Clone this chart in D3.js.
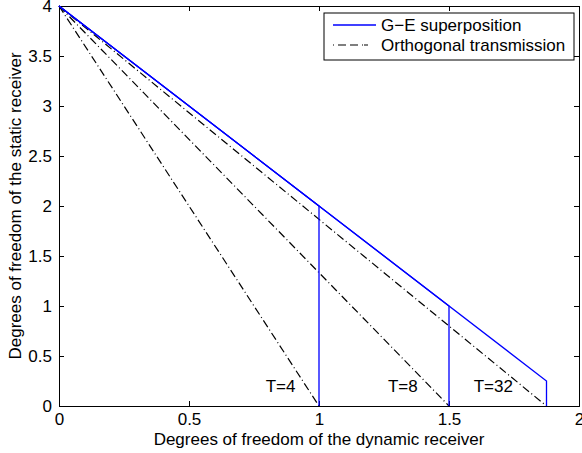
<!DOCTYPE html>
<html>
  <head>
    <script src="https://d3js.org/d3.v7.min.js"></script>
    <style>
      body { margin: 0; background: #fff; }
      svg text { font-family: "Liberation Sans", Arial, sans-serif; font-size: 17px; fill: #000; }
    </style>
  </head>
  <body>
    <svg id="chart" width="582" height="453"></svg>
    <script>
      // Corner points of each region, one per block length T
      var blockLabels = ["T=4", "T=8", "T=32"];
      var geX = [1, 1.5, 1.875];          // where the G-E curve drops to zero
      var geY = [2, 1, 0.25];             // G-E value at that corner
      var orthX = [1, 1.5, 1.875];        // orthogonal line hits the x axis here
      var labelX = [0.795, 1.265, 1.595];
      var xTicks = [0, 0.5, 1, 1.5, 2];
      var yTicks = [0, 0.5, 1, 1.5, 2, 2.5, 3, 3.5, 4];

      var svg = d3.select("#chart");
      var mLeft = 59, mRight = 579, mTop = 6, mBottom = 406;

      var x = d3.scaleLinear().domain([0, 2]).range([mLeft, mRight]);
      var y = d3.scaleLinear().domain([0, 4]).range([mBottom, mTop]);

      var line = d3.line().x(function(d) { return x(d[0]); }).y(function(d) { return y(d[1]); });

      // axes, ticks inside, mirrored on top and right
      var fmt = function(d) { return d3.format("~g")(d); };
      svg.append("g").attr("transform", "translate(0," + mBottom + ")")
        .call(d3.axisBottom(x).tickValues(xTicks).tickSize(-5).tickPadding(7).tickFormat(fmt));
      svg.append("g").attr("transform", "translate(0," + mTop + ")")
        .call(d3.axisTop(x).tickValues(xTicks).tickSize(-5).tickFormat(""));
      svg.append("g").attr("transform", "translate(" + mLeft + ",0)")
        .call(d3.axisLeft(y).tickValues(yTicks).tickSize(-5).tickPadding(7).tickFormat(fmt));
      svg.append("g").attr("transform", "translate(" + mRight + ",0)")
        .call(d3.axisRight(y).tickValues(yTicks).tickSize(-5).tickFormat(""));
      svg.selectAll(".domain").attr("stroke", "#000").attr("stroke-width", 1);
      svg.selectAll(".tick line").attr("stroke", "#000");
      svg.selectAll(".tick text").attr("fill", "#000");

      // orthogonal transmission lines
      orthX.forEach(function(ox) {
        svg.append("path").attr("d", line([[0, 4], [ox, 0]]))
          .attr("fill", "none").attr("stroke", "#000").attr("stroke-width", 1.2)
          .attr("stroke-dasharray", "8,3,1,3");
      });

      // G-E superposition boundaries
      geX.forEach(function(gx, i) {
        svg.append("path").attr("d", line([[0, 4], [gx, geY[i]], [gx, 0]]))
          .attr("fill", "none").attr("stroke", "#0000ff").attr("stroke-width", 1.3);
      });

      blockLabels.forEach(function(t, i) {
        svg.append("text").attr("x", x(labelX[i])).attr("y", y(0.14)).text(t);
      });

      // axis titles
      svg.append("text").attr("x", x(1)).attr("y", 445).attr("text-anchor", "middle")
        .text("Degrees of freedom of the dynamic receiver");
      svg.append("text").attr("transform", "translate(21," + y(2) + ") rotate(-90)")
        .attr("text-anchor", "middle").text("Degrees of freedom of the static receiver");

      // legend
      var lg = svg.append("g");
      lg.append("rect").attr("x", 324).attr("y", 13).attr("width", 250).attr("height", 47)
        .attr("fill", "#fff").attr("stroke", "#000").attr("stroke-width", 1);
      lg.append("line").attr("x1", 333).attr("x2", 376).attr("y1", 25).attr("y2", 25)
        .attr("stroke", "#0000ff").attr("stroke-width", 1.3);
      lg.append("line").attr("x1", 333).attr("x2", 376).attr("y1", 45).attr("y2", 45)
        .attr("stroke", "#000").attr("stroke-width", 1.2).attr("stroke-dasharray", "1,4,8,4,8,4,1");
      lg.append("text").attr("x", 381).attr("y", 31).text("G\u2212E superposition");
      lg.append("text").attr("x", 381).attr("y", 51).text("Orthogonal transmission");
    </script>
  </body>
</html>
